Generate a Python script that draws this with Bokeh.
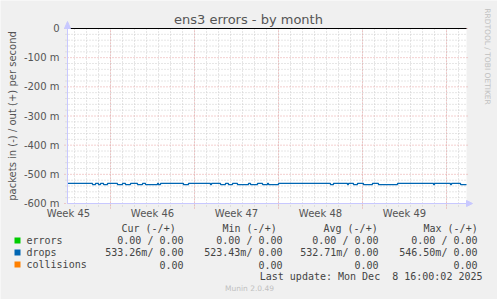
from math import pi
from bokeh.plotting import figure
from bokeh.models import (Range1d, FixedTicker, Label, BoxAnnotation, PolyAnnotation)
from bokeh.embed import file_html
from bokeh.resources import INLINE

# ---------------- data ----------------
title_text = "ens3 errors - by month"
y_label_text = "packets in (-) / out (+) per second"
side_text = "RRDTOOL / TOBI OETIKER"
footer_text = "Munin 2.0.49"
update_text = "Last update: Mon Dec\u00a0 8 16:00:02 2025"

# x in days relative to Monday of week 46 (Nov 10 2025 00:00)
data_start, data_end = -3.583, 29.667
week_label_days = [-3.5, 3.5, 10.5, 17.5, 24.5]
week_labels = ["Week 45", "Week 46", "Week 47", "Week 48", "Week 49"]
week_start_days = [0, 7, 14, 21, 28]
day_lines = list(range(-3, 30))

y_ticks = [0, -100, -200, -300, -400, -500, -600]
y_tick_labels = ["0", "-100 m", "-200 m", "-300 m", "-400 m", "-500 m", "-600 m"]
y_minor = [v for v in range(-580, 0, 20) if v % 100 != 0]

# drops (in, plotted negative), milli-packets per second; value holds from x[i]
drops_x = [-3.583, -1.50, -1.25, -1.00, -0.83, -0.58, -0.25, 0.58, 1.00, 1.25,
           1.67, 2.25, 2.67, 2.92, 3.92, 4.00, 4.17, 6.08, 6.50, 8.33,
           8.42, 9.17, 9.58, 9.83, 10.17, 10.58, 11.50, 11.67, 12.25, 12.67,
           13.08, 13.17, 14.00, 18.33, 18.58, 19.75, 19.83, 20.25, 20.58, 21.08,
           21.83, 22.33, 23.92, 26.92, 27.00, 28.33, 28.42, 29.17, 29.667]
drops_y = [-531, -535, -531, -535, -531, -535, -531, -535, -531, -535,
           -531, -535, -531, -535, -531, -535, -531, -535, -531, -535,
           -531, -535, -531, -535, -531, -535, -531, -535, -531, -535,
           -531, -535, -531, -535, -531, -535, -531, -535, -531, -535,
           -531, -535, -531, -535, -531, -535, -531, -535, -535]
zero_x = [data_start, data_end]
zero_y = [0, 0]

legend_names = ["errors", "drops", "collisions"]
legend_colors = ["#00CC00", "#0066B3", "#FF8000"]
col_headers = ["Cur (-/+)", "Min (-/+)", "Avg (-/+)", "Max (-/+)"]
cur_vals = ["0.00 / 0.00", "533.26m/ 0.00", "0.00"]
min_vals = ["0.00 / 0.00", "523.43m/ 0.00", "0.00"]
avg_vals = ["0.00 / 0.00", "532.71m/ 0.00", "0.00"]
max_vals = ["0.00 / 0.00", "546.50m/ 0.00", "0.00"]

# ---------------- geometry / style ----------------
W, H = 497, 299
BG = "#F0F0F0"
AXC = "#C8C8FF"
TXT = "#555555"
MAJ = "#E8A0A0"
MIN = "#CCCCCC"
PX_DAY = 12.0            # pixels per day
PX_M = 175.0 / 600.0     # pixels per milli-unit
LEFT_PX, TOP_PX = 67, 28  # page position of (data_start, 0)

x_lo = data_start - LEFT_PX / PX_DAY
x_hi = x_lo + W / PX_DAY
y_hi = TOP_PX / PX_M
y_lo = y_hi - H / PX_M

p = figure(width=W, height=H, output_backend="svg", toolbar_location=None,
           x_range=Range1d(x_lo, x_hi), y_range=Range1d(y_lo, y_hi),
           min_border=0, min_border_left=0, min_border_right=0,
           min_border_top=0, min_border_bottom=0)
p.background_fill_color = BG
p.border_fill_color = BG
p.outline_line_color = None
p.grid.visible = False

# white canvas of the graph
p.add_layout(BoxAnnotation(left=data_start, right=data_end, bottom=-600, top=0,
                           fill_color="white", fill_alpha=1, line_color=None, level="underlay"))

# grid lines (with the short tick stubs rrdtool draws outside the canvas)
tick_d = 3 / PX_DAY
tick_m = 3 / PX_M
p.segment(x0=[data_start - 2 / PX_DAY] * len(y_minor), x1=[data_end] * len(y_minor),
          y0=y_minor, y1=y_minor, line_color=MIN, line_width=1, line_dash="1 2")
p.segment(x0=day_lines, x1=day_lines, y0=[-600 - tick_m] * len(day_lines),
          y1=[0] * len(day_lines), line_color=MIN, line_width=1, line_dash="1 2")
p.segment(x0=[data_start - tick_d] * len(y_ticks), x1=[data_end + tick_d] * len(y_ticks),
          y0=y_ticks, y1=y_ticks, line_color=MAJ, line_width=1, line_dash="1 2")
p.segment(x0=week_start_days, x1=week_start_days, y0=[-600 - 5 / PX_M] * len(week_start_days),
          y1=[0] * len(week_start_days), line_color=MAJ, line_width=1, line_dash="1 2")

# axes (fixed inside the canvas so that they take no border room)
p.xaxis.fixed_location = -600
p.xaxis.bounds = (data_start, data_end)
p.xaxis.ticker = FixedTicker(ticks=week_label_days)
p.xaxis.major_label_overrides = dict(zip(week_label_days, week_labels))
p.xaxis.major_label_standoff = 4

p.yaxis.fixed_location = data_start
p.yaxis.bounds = (-600, 0)
p.yaxis.ticker = FixedTicker(ticks=y_ticks)
p.yaxis.major_label_overrides = dict(zip(y_ticks, y_tick_labels))
p.yaxis.major_label_standoff = 8
p.yaxis.axis_label = y_label_text
p.yaxis.axis_label_standoff = 3
p.yaxis.axis_label_text_font = "DejaVu Sans"
p.yaxis.axis_label_text_font_size = "10px"
p.yaxis.axis_label_text_font_style = "normal"
p.yaxis.axis_label_text_color = TXT
for ax in (p.xaxis, p.yaxis):
    ax.axis_line_color = AXC
    ax.major_tick_line_color = None
    ax.minor_tick_line_color = None
    ax.major_tick_out = 0
    ax.major_tick_in = 0
    ax.minor_tick_out = 0
    ax.minor_tick_in = 0
    ax.major_label_text_font = "DejaVu Sans"
    ax.major_label_text_font_size = "10px"
    ax.major_label_text_color = TXT

# series
p.line(zero_x, zero_y, line_color="black", line_width=1)
p.step(drops_x, drops_y, mode="after", line_color="#0066B3", line_width=1.3)


def sy(y):
    return H - y


# axis arrow heads
p.add_layout(PolyAnnotation(xs=[64, 70, 67], ys=[sy(28), sy(28), sy(21)],
                            xs_units="screen", ys_units="screen",
                            fill_color=AXC, fill_alpha=1, line_color=AXC, line_alpha=1))
p.add_layout(PolyAnnotation(xs=[466, 466, 472], ys=[sy(200), sy(206), sy(203)],
                            xs_units="screen", ys_units="screen",
                            fill_color=AXC, fill_alpha=1, line_color=AXC, line_alpha=1))


def lab(x, y, text, size="10px", font="DejaVu Sans Mono", color="#444444",
        align="left", angle=0):
    p.add_layout(Label(x=x, y=sy(y), x_units="screen", y_units="screen", text=text,
                       text_font=font, text_font_size=size, text_color=color,
                       text_align=align, text_baseline="middle", angle=angle))


lab(248, 19, title_text, size="13px", font="DejaVu Sans", color=TXT, align="center")
lab(487, 56, side_text, size="7.5px", font="DejaVu Sans", color="#C0C0C0",
    align="center", angle=-pi / 2)

# legend table
header_x = [121, 222, 323, 423]
col_right = [183, 282, 378, 477]
for hx, ht in zip(header_x, col_headers):
    lab(hx, 228, ht)
row_y = [240, 252, 264]
for i, (name, colr) in enumerate(zip(legend_names, legend_colors)):
    ry = row_y[i]
    p.add_layout(BoxAnnotation(left=14, right=20, bottom=sy(ry + 3), top=sy(ry - 3),
                               left_units="screen", right_units="screen",
                               bottom_units="screen", top_units="screen",
                               fill_color=colr, fill_alpha=1, line_color=None))
    lab(26, ry, name)
    for cx, vals in zip(col_right, (cur_vals, min_vals, avg_vals, max_vals)):
        lab(cx, ry, vals[i], align="right")
lab(482, 276, update_text, align="right")
lab(249, 288, footer_text, size="7.5px", font="DejaVu Sans", color="#C0C0C0", align="center")

open("out.html", "w").write(file_html(p, INLINE))
